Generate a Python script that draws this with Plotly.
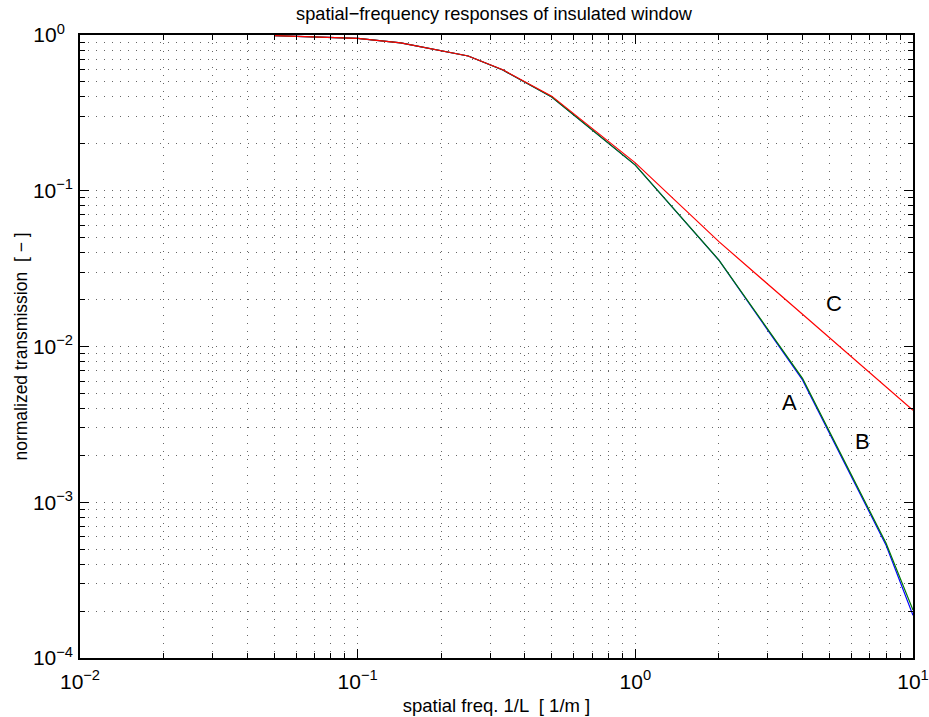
import math
import plotly.graph_objects as go

# data
freq = [0.05, 0.1, 0.1429, 0.2, 0.25, 0.3333, 0.5, 1, 2, 4, 8, 10]
trans_A = [0.99, 0.952, 0.89, 0.79, 0.733, 0.596, 0.40, 0.146, 0.0359, 0.00625, 5.45e-4, 2.03e-4]
trans_B = [0.99, 0.952, 0.89, 0.79, 0.733, 0.596, 0.40, 0.146, 0.0358, 0.0061, 5.3e-4, 1.88e-4]
trans_C = [0.99, 0.952, 0.89, 0.79, 0.733, 0.598, 0.405, 0.151, 0.0471, 0.0161, 0.0055, 0.0039]

x_tickvals = [0.01, 0.1, 1, 10]
x_ticktext = ["10<sup>\u22122</sup>", "10<sup>\u22121</sup>", "10<sup>0</sup>", "10<sup>1</sup>"]
y_tickvals = [1e-4, 1e-3, 1e-2, 1e-1, 1]
y_ticktext = ["10<sup>\u22124</sup>", "10<sup>\u22123</sup>", "10<sup>\u22122</sup>", "10<sup>\u22121</sup>",
              "10<sup>0\u00a0\u00a0</sup>"]

labels = ["A", "B", "C"]
label_x = [3.60, 6.60, 5.19]
label_y = [0.00434, 0.00244, 0.01875]

title_text = "spatial\u2212frequency responses of insulated window"
x_title = "spatial freq. 1/L  [ 1/m ]"
y_title = "normalized transmission  [ \u2212 ]"

def minor_vals(lo, hi):
    vals = []
    e = lo
    while e < hi:
        for m in range(2, 10):
            vals.append(m * 10 ** e)
        e += 1
    return vals

font = "Liberation Sans, Arial, Helvetica, sans-serif"

fig = go.Figure()
fig.add_trace(go.Scatter(x=freq, y=trans_B, mode="lines", line=dict(color="#0000ff", width=1.2), showlegend=False))
fig.add_trace(go.Scatter(x=freq, y=trans_A, mode="lines", line=dict(color="#007a00", width=1.2), showlegend=False))
fig.add_trace(go.Scatter(x=freq, y=trans_C, mode="lines", line=dict(color="#ff0000", width=1.2), showlegend=False))

for t, xv, yv in zip(labels, label_x, label_y):
    fig.add_annotation(x=math.log10(xv), y=math.log10(yv), xref="x", yref="y", text=t, showarrow=False,
                       font=dict(size=22, color="black", family=font))

# y-axis title as rotated annotation
fig.add_annotation(x=-(80 - 20) / 833, y=0.5, xref="paper", yref="paper", text=y_title, textangle=-90,
                   showarrow=False, xanchor="center", yanchor="middle",
                   font=dict(size=17.5, color="black", family=font))

grid_dash = "1px,7px"
grid_col = "#666666"

fig.update_xaxes(type="log", range=[-2, 1], tickvals=x_tickvals, ticktext=x_ticktext,
                 ticks="inside", ticklen=9, tickcolor="black", tickwidth=1,
                 showline=True, linecolor="black", linewidth=1.5, mirror="ticks",
                 showgrid=True, gridcolor=grid_col, griddash=grid_dash, gridwidth=1,
                 zeroline=False, tickfont=dict(size=21, color="black", family=font),
                 ticklabelstandoff=4, automargin=False,
                 title=dict(text=x_title, font=dict(size=18.5, color="black", family=font), standoff=7),
                 minor=dict(tickvals=minor_vals(-2, 1), ticks="inside", ticklen=5, tickcolor="black",
                            showgrid=True, gridcolor=grid_col, griddash=grid_dash, gridwidth=1))
fig.update_yaxes(type="log", range=[-4, 0], tickvals=y_tickvals, ticktext=y_ticktext,
                 ticks="inside", ticklen=9, tickcolor="black", tickwidth=1,
                 showline=True, linecolor="black", linewidth=1.5, mirror="ticks",
                 showgrid=True, gridcolor=grid_col, griddash=grid_dash, gridwidth=1,
                 zeroline=False, tickfont=dict(size=21, color="black", family=font),
                 ticklabelstandoff=1, automargin=False,
                 minor=dict(tickvals=minor_vals(-4, 0), ticks="inside", ticklen=5, tickcolor="black",
                            showgrid=True, gridcolor=grid_col, griddash=grid_dash, gridwidth=1))

fig.update_layout(
    width=929, height=717,
    margin=dict(l=80, r=16, t=35, b=59),
    paper_bgcolor="white", plot_bgcolor="white",
    title=dict(text=title_text, x=494 / 929, xanchor="center",
               y=1 - 14 / 717, yanchor="middle", font=dict(size=18.2, color="black", family=font)),
    font=dict(family=font, color="black"),
)

fig.write_html("out.html")
